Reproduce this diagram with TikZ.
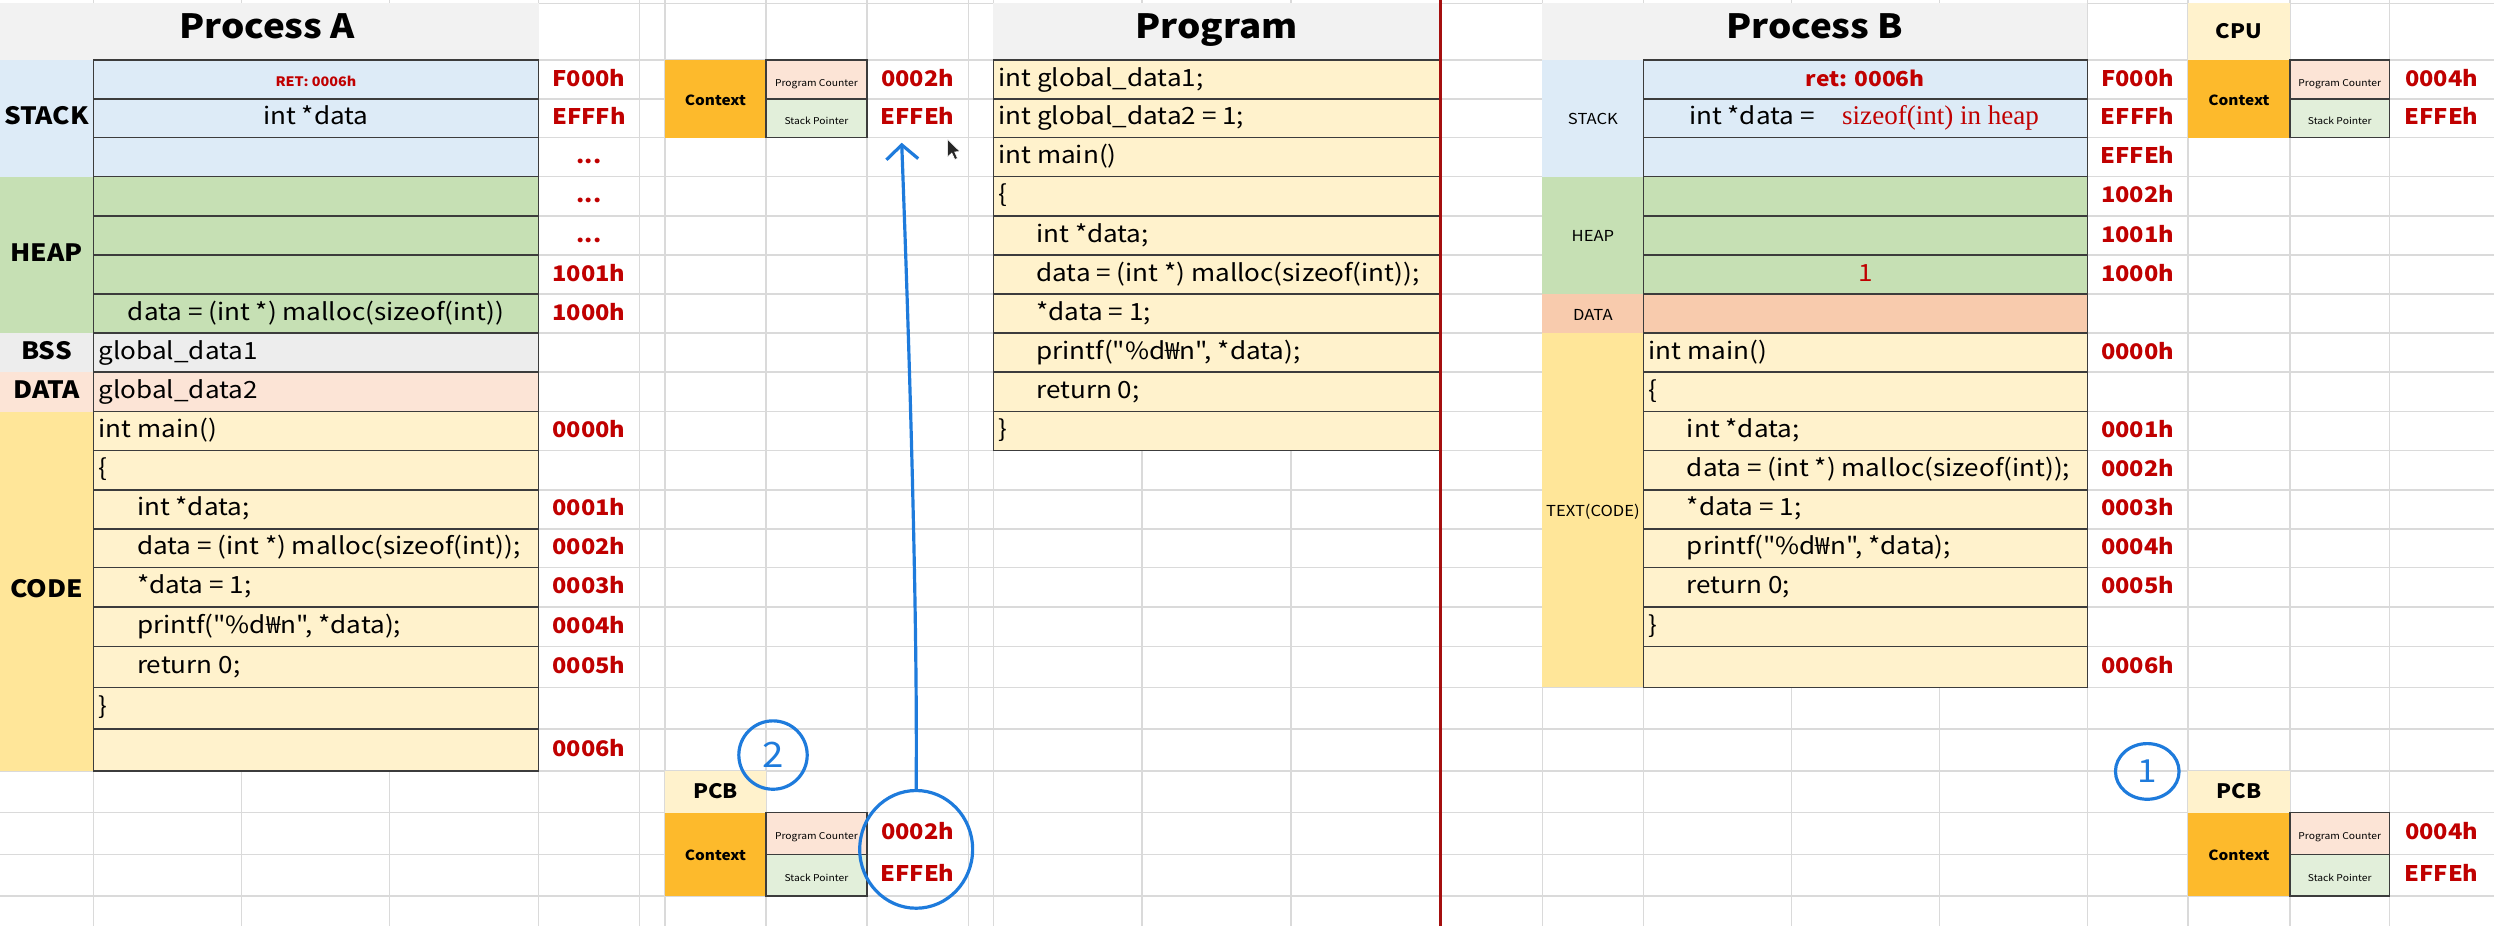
\documentclass[tikz,border=0pt]{standalone}
\usepackage{fontspec}
\setmainfont{Noto Sans CJK KR}[FakeStretch=1.1, Ligatures=TeXOff]
\newfontfamily\tnr{Liberation Serif}
\usetikzlibrary{arrows.meta,shapes.geometric}
\definecolor{gridc}{HTML}{DADADA}
\definecolor{titlec}{HTML}{F2F2F2}
\definecolor{stackc}{HTML}{DDEBF7}
\definecolor{heapc}{HTML}{C6E0B4}
\definecolor{bssc}{HTML}{EDEDED}
\definecolor{dataac}{HTML}{FCE4D6}
\definecolor{databc}{HTML}{F8CBAD}
\definecolor{codec}{HTML}{FFF2CC}
\definecolor{codelabc}{HTML}{FFE699}
\definecolor{ctxc}{HTML}{FDBA2C}
\definecolor{pcc}{HTML}{FCE4D6}
\definecolor{spc}{HTML}{E2EFDA}
\definecolor{redt}{HTML}{C00000}
\definecolor{penblue}{HTML}{1E7BDC}
\definecolor{cellline}{HTML}{3C3C3C}
\definecolor{divider}{HTML}{A50F0F}
\def\B{{37.7,62.3,86.6,111.0,135.8,160.3,184.9,209.4,233.9,258.8,283.2,308.0,332.6,357.0,381.6,406.3,432.0,458.3,484.7,511.0,537.0,563.3}}
\newcommand\rowrect[5]{%
  \pgfmathsetmacro\ya{\B[#4]}\pgfmathsetmacro\yb{\B[#5]}%
  \path[#1] (#2,\ya) rectangle (#3,\yb);}
\newcommand\rowtext[6]{%
  \pgfmathsetmacro\ya{\B[#4]}\pgfmathsetmacro\yb{\B[#5]}%
  \node[#2] (#1) at (#3,{(\ya+\yb)/2}) {#6};}
\newcommand\regblock[8]{%
  \pgfmathtruncatemacro\ra{#6+1}\pgfmathtruncatemacro\rb{#6+2}%
  \pgfmathsetmacro\ya{\B[#6]}\pgfmathsetmacro\yb{\B[\ra]}\pgfmathsetmacro\yc{\B[\rb]}%
  \fill[ctxc] (#2,\ya) rectangle (#3,\yc);
  \node[ctx] (#1ctx) at ({(#2+#3)/2},{(\ya+\yc)/2}) {Context};
  \path[cell,fill=pcc] (#3,\ya) rectangle (#4,\yb);
  \path[cell,fill=spc] (#3,\yb) rectangle (#4,\yc);
  \node[reg] (#1pc) at ({(#3+#4)/2},{(\ya+\yb)/2}) {Program Counter};
  \node[reg] (#1sp) at ({(#3+#4)/2},{(\yb+\yc)/2}) {Stack Pointer};
  \node[val] (#1pcv) at (#5,{(\ya+\yb)/2}) {#7};
  \node[val] (#1spv) at (#5,{(\yb+\yc)/2}) {#8};}
\tikzset{
  gridline/.style={draw=gridc, line width=0.8pt},
  cell/.style={draw=cellline, line width=0.8pt},
  txt/.style={inner sep=0pt, text height=0.82em, text depth=0pt, font=\fontsize{14.9}{16}\selectfont, text=black},
  ctxt/.style={txt, anchor=center},
  ltxt/.style={txt, anchor=west},
  addr/.style={txt, anchor=center, font=\bfseries\fontsize{13.5}{15}\selectfont, text=redt},
  labA/.style={txt, anchor=center, font=\bfseries\fontsize{15}{17}\selectfont},
  labB/.style={txt, anchor=center, font=\fontsize{9.5}{11}\selectfont},
  ttl/.style={txt, anchor=center, font=\bfseries\fontsize{21}{23}\selectfont},
  ctx/.style={txt, anchor=center, font=\bfseries\fontsize{8.8}{10}\selectfont},
  reg/.style={txt, anchor=center, font=\fontsize{5.9}{7}\selectfont},
  val/.style={txt, anchor=center, font=\bfseries\fontsize{13.5}{15}\selectfont, text=redt},
  hdr/.style={txt, anchor=center, font=\bfseries\fontsize{12.5}{14}\selectfont},
  pen/.style={draw=penblue, line width=2pt, line cap=round, line join=round},
}
\begin{document}
\begin{tikzpicture}[x=1pt,y=-1pt]
\useasboundingbox (0,0) rectangle (1568,582);
\fill[white] (0,0) rectangle (1568,582);
% spreadsheet grid
\foreach \gx in {58.6,152,245,338.6,402,418,481.6,545,608.8,624.5,718,811.6,969.6,1033.3,1126.3,1219.2,1312.2,1375.6,1439.7,1502.3}
  \draw[gridline] (\gx,0) -- (\gx,582);
\foreach \gy in {2,37.7,62.3,86.6,111.0,135.8,160.3,184.9,209.4,233.9,258.8,283.2,308.0,332.6,357.0,381.6,406.3,432.0,458.3,484.7,511.0,537.0,563.3}
  \draw[gridline] (0,\gy) -- (1568,\gy);

% ================= Process A =================
\fill[titlec] (0,2) rectangle (338.6,37.7);
\node[ttl] (titleA) at (168,19.8) {Process A};
\rowrect{fill=stackc}{0}{58.6}{0}{3}
\rowrect{fill=heapc}{0}{58.6}{3}{7}
\rowrect{fill=bssc}{0}{58.6}{7}{8}
\rowrect{fill=dataac}{0}{58.6}{8}{9}
\rowrect{fill=codelabc}{0}{58.6}{9}{18}
\rowtext{aLabStack}{labA}{29.3}{0}{3}{STACK}
\rowtext{aLabHeap}{labA}{29.3}{3}{7}{HEAP}
\rowtext{aLabBss}{labA}{29.3}{7}{8}{BSS}
\rowtext{aLabData}{labA}{29.3}{8}{9}{DATA}
\rowtext{aLabCode}{labA}{29.3}{9}{18}{CODE}
\foreach \r/\s/\c in {0/1/stackc,1/2/stackc,2/3/stackc,3/4/heapc,4/5/heapc,5/6/heapc,6/7/heapc,7/8/bssc,8/9/dataac,9/10/codec,10/11/codec,11/12/codec,12/13/codec,13/14/codec,14/15/codec,15/16/codec,16/17/codec,17/18/codec}
  {\rowrect{cell,fill=\c}{58.6}{338.6}{\r}{\s}}
\rowtext{aRet}{ctxt,font=\bfseries\fontsize{8.2}{10}\selectfont,text=redt}{198.6}{0}{1}{RET: 0006h}
\rowtext{aStk}{ctxt}{198.6}{1}{2}{int *data}
\rowtext{aHeap}{ctxt}{198.6}{6}{7}{data = (int *) malloc(sizeof(int))}
\rowtext{aBss}{ltxt}{61.8}{7}{8}{global\_data1}
\rowtext{aData}{ltxt}{61.8}{8}{9}{global\_data2}
\rowtext{aC0}{ltxt}{61.8}{9}{10}{int main()}
\rowtext{aC1}{ltxt}{61.8}{10}{11}{\{}
\rowtext{aC2}{ltxt}{86}{11}{12}{int *data;}
\rowtext{aC3}{ltxt}{86}{12}{13}{data = (int *) malloc(sizeof(int));}
\rowtext{aC4}{ltxt}{86}{13}{14}{*data = 1;}
\rowtext{aC5}{ltxt}{86}{14}{15}{printf("\%d₩n", *data);}
\rowtext{aC6}{ltxt}{86}{15}{16}{return 0;}
\rowtext{aC7}{ltxt}{61.8}{16}{17}{\}}
\rowtext{aA0}{addr}{370.3}{0}{1}{F000h}
\rowtext{aA1}{addr}{370.3}{1}{2}{EFFFh}
\rowtext{aA2}{addr}{370.3}{2}{3}{...}
\rowtext{aA3}{addr}{370.3}{3}{4}{...}
\rowtext{aA4}{addr}{370.3}{4}{5}{...}
\rowtext{aA5}{addr}{370.3}{5}{6}{1001h}
\rowtext{aA6}{addr}{370.3}{6}{7}{1000h}
\rowtext{aA9}{addr}{370.3}{9}{10}{0000h}
\rowtext{aA11}{addr}{370.3}{11}{12}{0001h}
\rowtext{aA12}{addr}{370.3}{12}{13}{0002h}
\rowtext{aA13}{addr}{370.3}{13}{14}{0003h}
\rowtext{aA14}{addr}{370.3}{14}{15}{0004h}
\rowtext{aA15}{addr}{370.3}{15}{16}{0005h}
\rowtext{aA17}{addr}{370.3}{17}{18}{0006h}

% ================= middle: registers and PCB =================
\regblock{m}{418}{481.6}{545}{576.9}{0}{0002h}{EFFEh}
\rowrect{fill=codec}{418}{481.6}{18}{19}
\rowtext{pcbA}{hdr}{449.8}{18}{19}{PCB}
\regblock{p}{418}{481.6}{545}{576.9}{19}{0002h}{EFFEh}

% ================= Program =================
\fill[titlec] (624.5,2) rectangle (905.5,37.7);
\node[ttl] (titleP) at (765,19.8) {Program};
\foreach \r/\s in {0/1,1/2,2/3,3/4,4/5,5/6,6/7,7/8,8/9,9/10}
  {\rowrect{cell,fill=codec}{624.5}{905.5}{\r}{\s}}
\rowtext{pL0}{ltxt}{627.5}{0}{1}{int global\_data1;}
\rowtext{pL1}{ltxt}{627.5}{1}{2}{int global\_data2 = 1;}
\rowtext{pL2}{ltxt}{627.5}{2}{3}{int main()}
\rowtext{pL3}{ltxt}{627.5}{3}{4}{\{}
\rowtext{pL4}{ltxt}{651.4}{4}{5}{int *data;}
\rowtext{pL5}{ltxt}{651.4}{5}{6}{data = (int *) malloc(sizeof(int));}
\rowtext{pL6}{ltxt}{651.4}{6}{7}{*data = 1;}
\rowtext{pL7}{ltxt}{651.4}{7}{8}{printf("\%d₩n", *data);}
\rowtext{pL8}{ltxt}{651.4}{8}{9}{return 0;}
\rowtext{pL9}{ltxt}{627.5}{9}{10}{\}}

% divider
\draw[divider, line width=2.2pt] (905.5,0) -- (905.5,582);

% ================= Process B =================
\fill[titlec] (969.6,2) rectangle (1312.2,37.7);
\node[ttl] (titleB) at (1141,19.8) {Process B};
\rowrect{fill=stackc}{969.6}{1033.3}{0}{3}
\rowrect{fill=heapc}{969.6}{1033.3}{3}{6}
\rowrect{fill=databc}{969.6}{1033.3}{6}{7}
\rowrect{fill=codelabc}{969.6}{1033.3}{7}{16}
\rowtext{bLabStack}{labB}{1001.5}{0}{3}{STACK}
\rowtext{bLabHeap}{labB}{1001.5}{3}{6}{HEAP}
\rowtext{bLabData}{labB}{1001.5}{6}{7}{DATA}
\rowtext{bLabText}{labB}{1001.5}{7}{16}{TEXT(CODE)}
\foreach \r/\s/\c in {0/1/stackc,1/2/stackc,2/3/stackc,3/4/heapc,4/5/heapc,5/6/heapc,6/7/databc,7/8/codec,8/9/codec,9/10/codec,10/11/codec,11/12/codec,12/13/codec,13/14/codec,14/15/codec,15/16/codec}
  {\rowrect{cell,fill=\c}{1033.3}{1312.2}{\r}{\s}}
\rowtext{bRet}{ctxt,font=\bfseries\fontsize{13}{15}\selectfont,text=redt}{1172.7}{0}{1}{ret: 0006h}
\rowtext{bStk}{ltxt}{1061.7}{1}{2}{int *data =}
\rowtext{bStkNote}{ltxt,text height=0.76em,font=\tnr\fontsize{17}{19}\selectfont,text=redt}{1158}{1}{2}{sizeof(int) in heap}
\rowtext{bOne}{ctxt,text=redt}{1172.7}{5}{6}{1}
\rowtext{bC0}{ltxt}{1036.3}{7}{8}{int main()}
\rowtext{bC1}{ltxt}{1036.3}{8}{9}{\{}
\rowtext{bC2}{ltxt}{1060.4}{9}{10}{int *data;}
\rowtext{bC3}{ltxt}{1060.4}{10}{11}{data = (int *) malloc(sizeof(int));}
\rowtext{bC4}{ltxt}{1060.4}{11}{12}{*data = 1;}
\rowtext{bC5}{ltxt}{1060.4}{12}{13}{printf("\%d₩n", *data);}
\rowtext{bC6}{ltxt}{1060.4}{13}{14}{return 0;}
\rowtext{bC7}{ltxt}{1036.3}{14}{15}{\}}
\rowtext{bA0}{addr}{1343.9}{0}{1}{F000h}
\rowtext{bA1}{addr}{1343.9}{1}{2}{EFFFh}
\rowtext{bA2}{addr}{1343.9}{2}{3}{EFFEh}
\rowtext{bA3}{addr}{1343.9}{3}{4}{1002h}
\rowtext{bA4}{addr}{1343.9}{4}{5}{1001h}
\rowtext{bA5}{addr}{1343.9}{5}{6}{1000h}
\rowtext{bA7}{addr}{1343.9}{7}{8}{0000h}
\rowtext{bA9}{addr}{1343.9}{9}{10}{0001h}
\rowtext{bA10}{addr}{1343.9}{10}{11}{0002h}
\rowtext{bA11}{addr}{1343.9}{11}{12}{0003h}
\rowtext{bA12}{addr}{1343.9}{12}{13}{0004h}
\rowtext{bA13}{addr}{1343.9}{13}{14}{0005h}
\rowtext{bA15}{addr}{1343.9}{15}{16}{0006h}

% ================= CPU and PCB of B =================
\fill[codec] (1375.6,2) rectangle (1439.7,37.7);
\node[hdr] (cpu) at (1407.6,19.8) {CPU};
\regblock{c}{1375.6}{1439.7}{1502.3}{1535}{0}{0004h}{EFFEh}
\rowrect{fill=codec}{1375.6}{1439.7}{18}{19}
\rowtext{pcbB}{hdr}{1407.6}{18}{19}{PCB}
\regblock{q}{1375.6}{1439.7}{1502.3}{1535}{19}{0004h}{EFFEh}

% ================= blue pen annotations =================
\node[pen, ellipse, minimum width=71pt, minimum height=74pt, inner sep=0pt] (loop2) at (576,534) {};
\draw[pen, -{Straight Barb[length=9pt,width=20pt]}] (loop2.north) .. controls (577,380) and (571,200) .. ([xshift=-10pt,yshift=-11pt]mspv.south);
\node[pen, circle, minimum size=43pt, inner sep=0pt, text=penblue, font=\fontsize{22}{24}\selectfont] (num2) at (486,474.7) {2};
\node[pen, ellipse, minimum width=40pt, minimum height=35pt, inner sep=0pt, text=penblue, font=\fontsize{20}{22}\selectfont] (num1) at (1350,485) {1};

% mouse pointer
\filldraw[fill=black!85, draw=white, line width=0.4pt, line join=round]
  (595.8,87.6) -- (595.8,98.6) -- (598.4,96.2) -- (600.3,100.3) -- (602,99.5) -- (600.2,95.5) -- (603.6,95.3) -- cycle;
\end{tikzpicture}
\end{document}
